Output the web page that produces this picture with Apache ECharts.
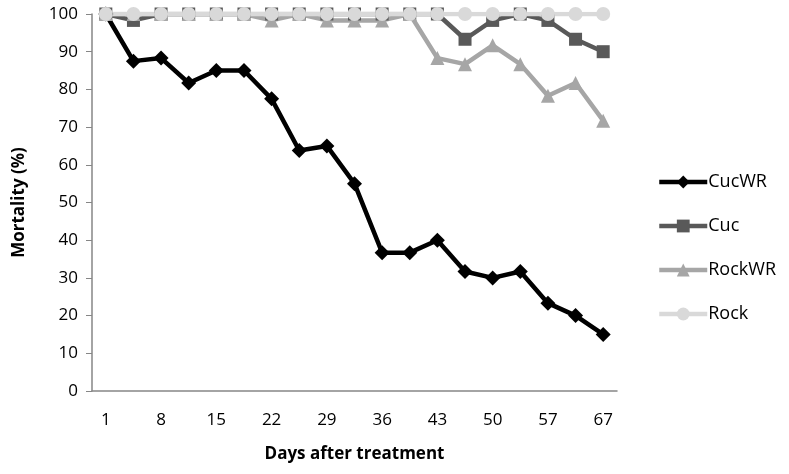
<!DOCTYPE html>
<html><head><meta charset="utf-8">
<script src="https://cdn.jsdelivr.net/npm/echarts@6/dist/echarts.min.js"></script>
<style>html,body{margin:0;padding:0;background:#fff}#c{width:789px;height:474px}</style>
</head><body><div id="c"></div>
<script>
const days = ['1','4','8','11','15','18','22','25','29','32','36','39','43','46','50','53','57','62','67'];
const cucWR  = [100,87.5,88.3,81.7,85,85,77.5,63.8,65,55,36.7,36.7,40,31.7,30,31.7,23.3,20,15];
const cuc    = [100,98.3,100,100,100,100,100,100,100,100,100,100,100,93.3,98.3,100,98.3,93.3,90];
const rockWR = [100,100,100,100,100,100,98.3,100,98.3,98.3,98.3,100,88.3,86.7,91.7,86.7,78.3,81.7,71.7];
const rock   = [100,100,100,100,100,100,100,100,100,100,100,100,100,100,100,100,100,100,100];
const yTicks = [0,10,20,30,40,50,60,70,80,90,100];

const FONT = '"Open Sans", "Liberation Sans", sans-serif';
function s(name, data, color, symbol, size){
  return {name, type:'line', data, symbol, symbolSize:size,
    lineStyle:{color, width:4.5}, itemStyle:{color}, color, showAllSymbol:true, animation:false};
}
const chart = echarts.init(document.getElementById('c'));
chart.setOption({
  animation:false,
  grid:{left:92, right:172, top:14, bottom:83, containLabel:false},
  xAxis:{type:'category', data:days, boundaryGap:true,
    axisLine:{lineStyle:{color:'#868686', width:1.5}},
    axisTick:{show:false},
    axisLabel:{interval:1, color:'#000', fontSize:17, fontFamily:FONT, margin:21},
    name:'Days after treatment', nameLocation:'middle', nameGap:55,
    nameTextStyle:{color:'#000', fontSize:17, fontWeight:'bold', fontFamily:FONT}},
  yAxis:{type:'value', min:yTicks[0], max:yTicks[yTicks.length-1], interval:10,
    axisLine:{show:true, lineStyle:{color:'#868686', width:1.5}},
    axisTick:{show:true, length:6, lineStyle:{color:'#868686'}},
    splitLine:{show:false},
    axisLabel:{color:'#000', fontSize:17, fontFamily:FONT, margin:14},
    name:'Mortality (%)', nameLocation:'middle', nameGap:64,
    nameTextStyle:{color:'#000', fontSize:17, fontWeight:'bold', fontFamily:FONT}},
  legend:{orient:'vertical', left:652, top:168, itemWidth:48, itemHeight:16, itemGap:26,
    lineStyle:{width:4.5},
    textStyle:{color:'#000', fontSize:18, fontFamily:FONT, padding:[0,0,0,-4]},
    data:['CucWR','Cuc','RockWR','Rock']},
  series:[
    s('CucWR', cucWR, '#000000', 'diamond', 15),
    s('Cuc', cuc, '#595959', 'rect', 13),
    s('RockWR', rockWR, '#a6a6a6', 'triangle', 14),
    s('Rock', rock, '#d9d9d9', 'circle', 14)
  ]
});
</script></body></html>
